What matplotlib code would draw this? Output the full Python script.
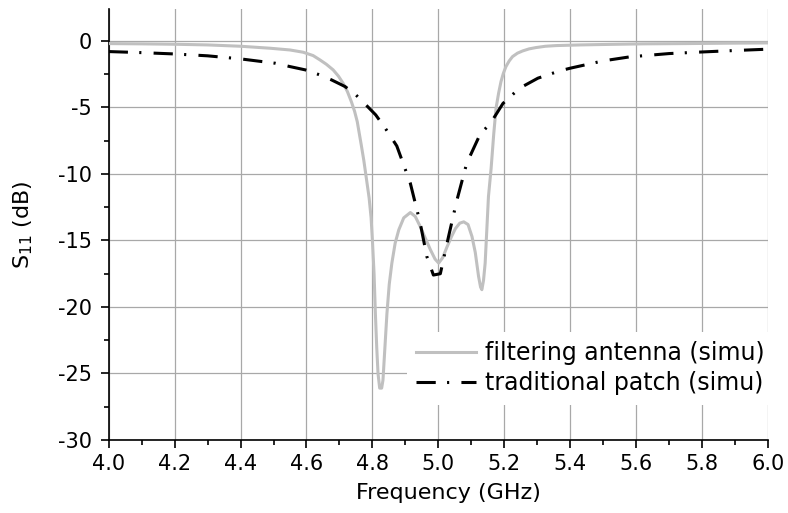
import matplotlib
matplotlib.use("Agg")
import matplotlib.pyplot as plt
from matplotlib.ticker import MultipleLocator, FormatStrFormatter

plt.rcParams['font.family'] = ['DejaVu Sans']
plt.rcParams['axes.unicode_minus'] = False

# Filtering antenna (simu)
freq_filter = [4.00, 4.10, 4.20, 4.30, 4.40, 4.49, 4.55, 4.59, 4.62, 4.641, 4.66, 4.681,
               4.697, 4.711, 4.724, 4.736, 4.746, 4.754, 4.766, 4.774, 4.782, 4.790, 4.796,
               4.800, 4.805, 4.809, 4.813, 4.817, 4.822, 4.828, 4.832, 4.838, 4.844, 4.851,
               4.859, 4.869, 4.880, 4.895, 4.915, 4.930, 4.945, 4.960, 4.976, 4.990, 5.001,
               5.013, 5.026, 5.040, 5.052, 5.065, 5.077, 5.090, 5.102, 5.112, 5.122, 5.128,
               5.132, 5.137, 5.142, 5.147, 5.152, 5.160, 5.168, 5.175, 5.183, 5.190, 5.197,
               5.205, 5.215, 5.225, 5.240, 5.256, 5.275, 5.296, 5.325, 5.357, 5.43, 5.52,
               5.62, 5.75, 5.88, 6.00]
s11_filter = [-0.2, -0.22, -0.25, -0.3, -0.4, -0.55, -0.68, -0.85, -1.1, -1.43, -1.75, -2.18,
              -2.65, -3.18, -3.8, -4.56, -5.3, -6.07, -7.8, -9.0, -10.4, -11.8, -13.3,
              -15.0, -17.5, -20.5, -23.0, -25.0, -26.1, -26.1, -25.5, -23.0, -20.5, -18.3,
              -16.7, -15.2, -14.2, -13.3, -12.9, -13.2, -13.95, -14.8, -15.7, -16.4, -16.7,
              -16.3, -15.5, -14.7, -14.1, -13.7, -13.6, -13.8, -14.7, -15.9, -17.7, -18.5,
              -18.7, -18.0, -16.7, -14.2, -11.7, -9.6, -7.0, -5.06, -3.9, -3.06, -2.45,
              -1.93, -1.5, -1.18, -0.92, -0.75, -0.6, -0.5, -0.4, -0.35, -0.3, -0.26,
              -0.22, -0.2, -0.17, -0.15]

# Traditional patch (simu)
freq_patch = [4.0, 4.1, 4.2, 4.3, 4.4, 4.506, 4.55, 4.597, 4.641, 4.676, 4.717, 4.75, 4.78,
              4.81, 4.84, 4.874, 4.915, 4.945, 4.965, 4.985, 5.006, 5.031, 5.056, 5.086,
              5.127, 5.158, 5.196, 5.246, 5.302, 5.367, 5.4, 5.5, 5.58, 5.7, 5.8, 5.9, 6.0]
s11_patch = [-0.8, -0.88, -0.98, -1.12, -1.35, -1.68, -1.93, -2.18, -2.56, -2.93, -3.43,
             -4.06, -4.8, -5.56, -6.6, -7.9, -10.7, -13.7, -16.2, -17.6, -17.5, -14.7,
             -12.0, -9.2, -7.0, -6.2, -4.7, -3.56, -2.8, -2.26, -2.05, -1.5, -1.2, -0.95,
             -0.83, -0.72, -0.62]

labels = ["filtering antenna (simu)", "traditional patch (simu)"]

fig = plt.figure(figsize=(7.88, 5.13), dpi=100)
ax = fig.add_axes([108.7 / 788, 1 - 440 / 513, (768 - 108.7) / 788, (440 - 9) / 513])

ax.plot(freq_filter, s11_filter, color='#c0c0c0', lw=2.2, label=labels[0], zorder=3,
        solid_joinstyle='round')
ax.plot(freq_patch, s11_patch, color='black', lw=2.2, dashes=(6.3, 3.7, 0.7, 4.0),
        label=labels[1], zorder=4)

ax.set_xlim(4.0, 6.0)
ax.set_ylim(-30, 2.4)
ax.xaxis.set_major_locator(MultipleLocator(0.2))
ax.xaxis.set_minor_locator(MultipleLocator(0.1))
ax.yaxis.set_major_locator(MultipleLocator(5))
ax.yaxis.set_minor_locator(MultipleLocator(2.5))
ax.xaxis.set_major_formatter(FormatStrFormatter('%.1f'))
ax.yaxis.set_major_formatter(FormatStrFormatter('%d'))

ax.grid(True, which='major', color='#a8a8a8', lw=0.9)
ax.set_axisbelow(True)
for s in ['top', 'right']:
    ax.spines[s].set_visible(False)
for s in ['left', 'bottom']:
    ax.spines[s].set_linewidth(1.2)

ax.tick_params(which='major', direction='out', length=6, width=1.2, labelsize=15, pad=4)
ax.tick_params(which='minor', direction='out', length=3.5, width=1.2)
ax.tick_params(axis='y', which='major', pad=6)

ax.set_xlabel('Frequency (GHz)', fontsize=16)
ax.set_ylabel(r'S$_{11}$ (dB)', fontsize=16)
ax.xaxis.set_label_coords(0.516, -0.100)
ax.yaxis.set_label_coords(-0.112, 0.5)

leg = ax.legend(loc='upper left', bbox_to_anchor=(0.4525, 0.2506), borderaxespad=0,
                fontsize=17, frameon=True, fancybox=False, framealpha=1,
                facecolor='white', edgecolor='none', handlelength=2.5,
                handletextpad=0.4, labelspacing=0.25, borderpad=0.4)
leg.set_zorder(5)

fig.savefig('out.png', dpi=100)
